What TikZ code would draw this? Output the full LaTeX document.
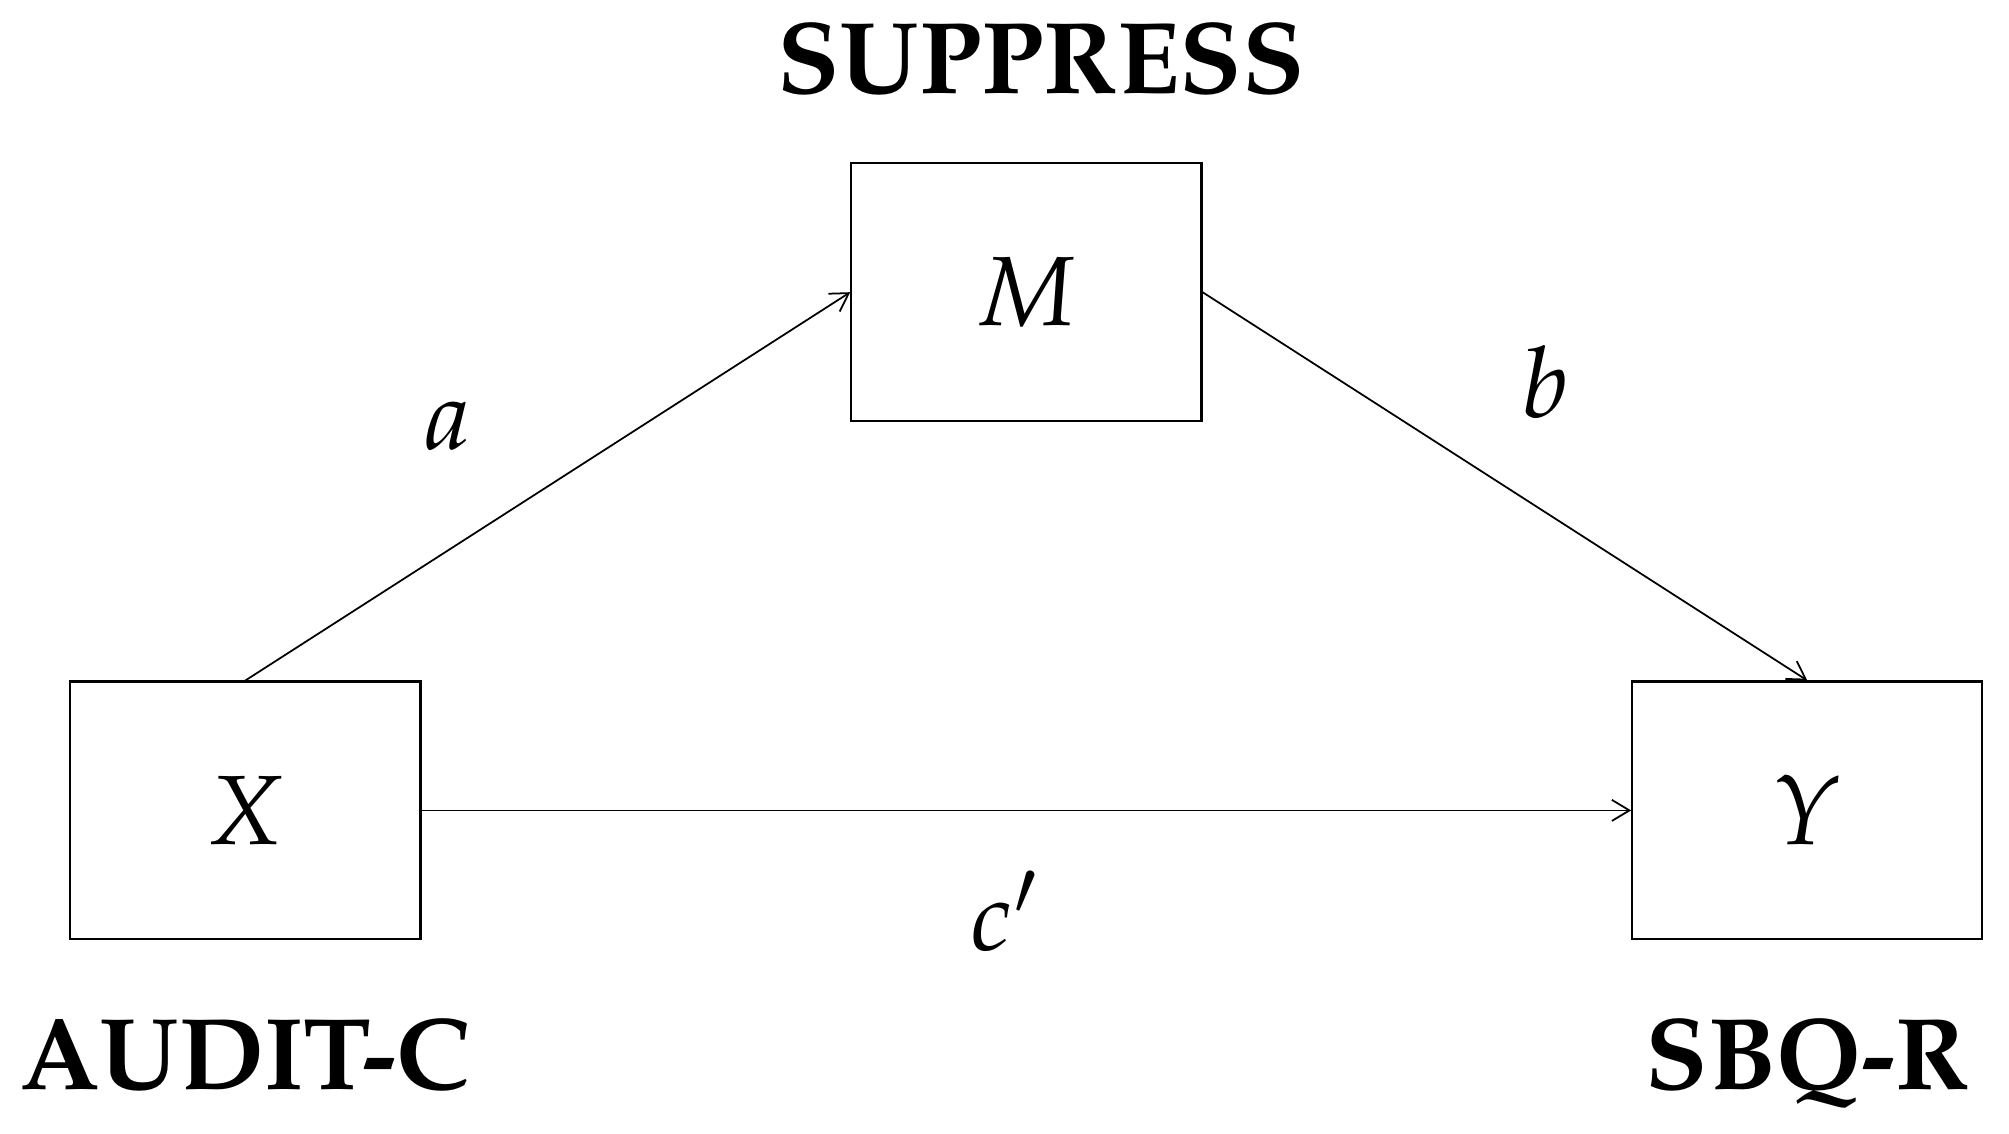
\documentclass[tikz,border=0pt]{standalone}
\usepackage[T1]{fontenc}
\usepackage{mathpazo}
\usepackage{amsmath}
\usetikzlibrary{arrows.meta,positioning}

\tikzset{
    varbox/.style={draw, line width=0.6pt, minimum width=3.5cm, minimum height=2.576cm, font=\fontsize{28}{30}\selectfont},
    varname/.style={anchor=base, font=\fontsize{29}{31}\selectfont\bfseries},
    pathlbl/.style={anchor=base, font=\fontsize{28}{30}\selectfont},
    effect/.style={-{Straight Barb[length=5pt,width=6pt]}, line width=0.5pt}
}

\begin{document}
\begin{tikzpicture}[x=0.01cm,y=-0.01cm]
            \useasboundingbox (0,0) rectangle (2009,1134);
            % the three variables
            \node[varbox] (X) at (245.4,810.4) {$X$};
            \node[varbox] (M) at (1026.4,292.2) {$M$};
            \node[varbox] (Y) at (1807.3,810.4) {$Y$};
            \node[varname] (Mname) at (1041,93.5) {SUPPRESS};
            \node[varname] (Xname) at (245.4,1089) {AUDIT-C};
            \node[varname] (Yname) at (1807.3,1089) {SBQ-R};
            % paths
            \draw[effect] (X.north) -- (M.west);
            \draw[effect] (M.east) -- (Y.north);
            \draw[effect] (X.east) -- (Y.west);
            \node[pathlbl] (a) at (447.5,450) {$a$};
            \node[pathlbl] (b) at (1545,418) {$b$};
            \node[pathlbl] (c) at (1004.5,950) {$c'$};
        \end{tikzpicture}
\end{document}
